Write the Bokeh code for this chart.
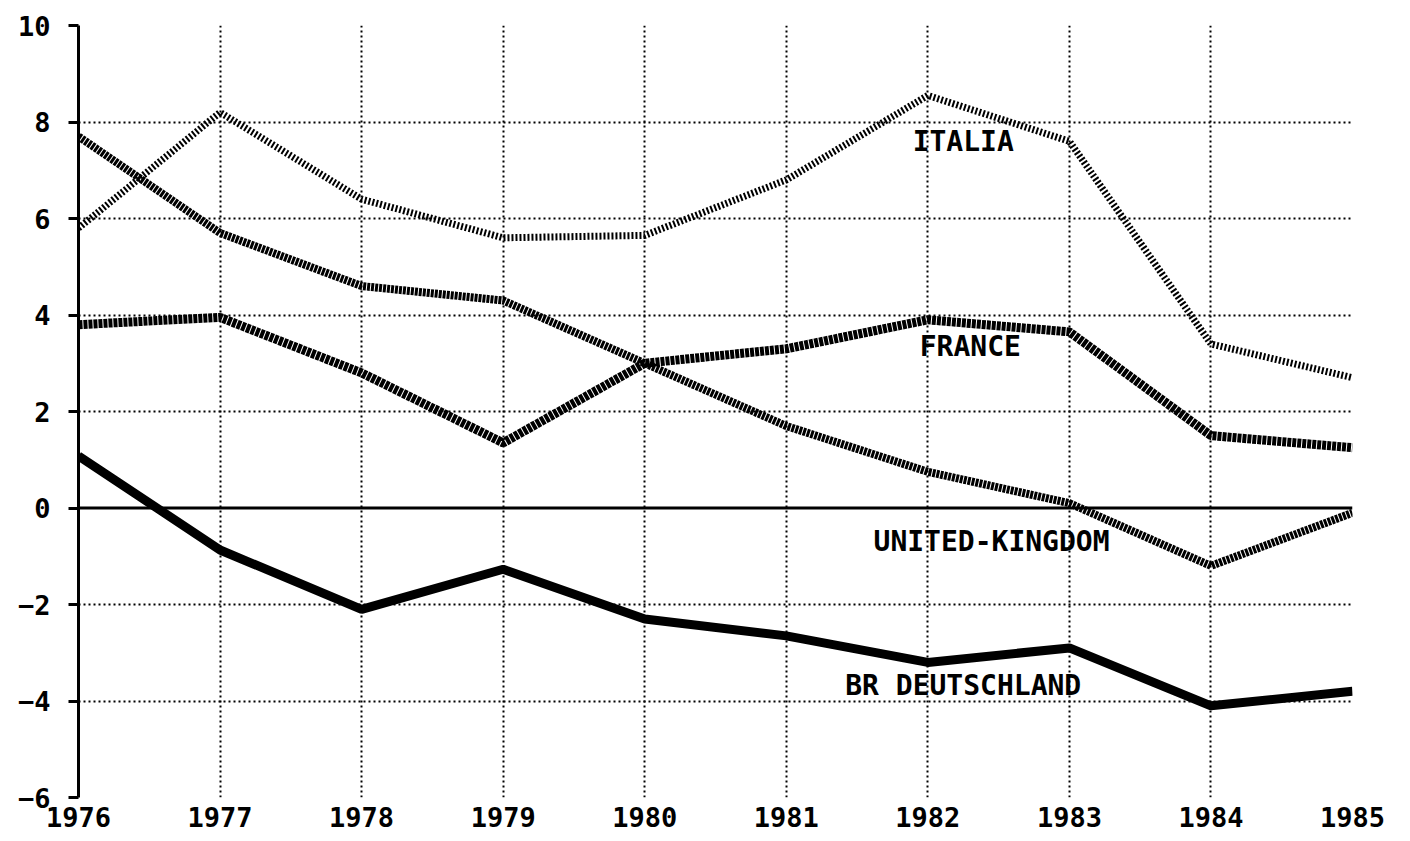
from bokeh.plotting import figure
from bokeh.models import Range1d, FixedTicker, Span
from bokeh.core.properties import value
from bokeh.embed import file_html
from bokeh.resources import INLINE

years = [1976, 1977, 1978, 1979, 1980, 1981, 1982, 1983, 1984, 1985]
italia = [5.8, 8.2, 6.4, 5.6, 5.65, 6.8, 8.55, 7.6, 3.4, 2.7]
united_kingdom = [7.7, 5.7, 4.6, 4.3, 3.0, 1.7, 0.75, 0.1, -1.2, -0.1]
france = [3.8, 3.95, 2.8, 1.35, 3.0, 3.3, 3.9, 3.65, 1.5, 1.25]
deutschland = [1.08, -0.87, -2.1, -1.27, -2.3, -2.65, -3.2, -2.9, -4.1, -3.8]
y_ticks = [-6, -4, -2, 0, 2, 4, 6, 8, 10]

label_texts = ["ITALIA", "FRANCE", "UNITED-KINGDOM", "BR DEUTSCHLAND"]
label_x = [1982.25, 1982.3, 1982.45, 1982.25]
label_y = [7.6, 3.35, -0.7, -3.68]

FONT = "DejaVu Sans Mono"

p = figure(frame_width=1274, frame_height=772, output_backend="svg",
           toolbar_location=None, x_range=Range1d(1976, 1985), y_range=Range1d(-6, 10),
           min_border_left=78, min_border_right=50, min_border_top=25, min_border_bottom=42)
p.outline_line_color = None
p.background_fill_color = "white"

# axes
p.xaxis.ticker = FixedTicker(ticks=years)
p.yaxis.ticker = FixedTicker(ticks=y_ticks)
for ax in (p.xaxis[0], p.yaxis[0]):
    ax.major_label_text_font = FONT
    ax.major_label_text_font_style = "bold"
    ax.major_label_text_font_size = "27px"
    ax.major_label_text_color = "black"
    ax.minor_tick_line_color = None
p.xaxis.axis_line_color = None
p.xaxis.major_tick_line_color = None
p.xaxis.major_tick_out = 0
p.xaxis.major_tick_in = 0
p.xaxis.major_label_standoff = 9
p.yaxis.axis_line_width = 3
p.yaxis.axis_line_color = "black"
p.yaxis.major_tick_line_width = 3
p.yaxis.major_tick_out = 10
p.yaxis.major_tick_in = 0
p.yaxis.major_label_standoff = 18

# grid
for g in (p.xgrid[0], p.ygrid[0]):
    g.grid_line_color = "black"
    g.grid_line_width = 2
    g.grid_line_dash = "2 3"
p.xgrid.ticker = FixedTicker(ticks=years)
p.ygrid.ticker = FixedTicker(ticks=[t for t in y_ticks if t != 0])

p.add_layout(Span(location=0, dimension="width", line_color="black", line_width=3))

# series
p.line(years, italia, line_color="black", line_width=7, line_dash="2 2")
p.line(years, united_kingdom, line_color="black", line_width=8, line_dash="3 1")
p.line(years, france, line_color="black", line_width=9, line_dash="4 1")
p.line(years, deutschland, line_color="black", line_width=9)

p.text(x=label_x, y=label_y, text=label_texts, text_font=value(FONT),
       text_font_style="bold", text_font_size="28px", text_align="center",
       text_baseline="middle", text_color="black")

open("out.html", "w").write(file_html(p, INLINE))
